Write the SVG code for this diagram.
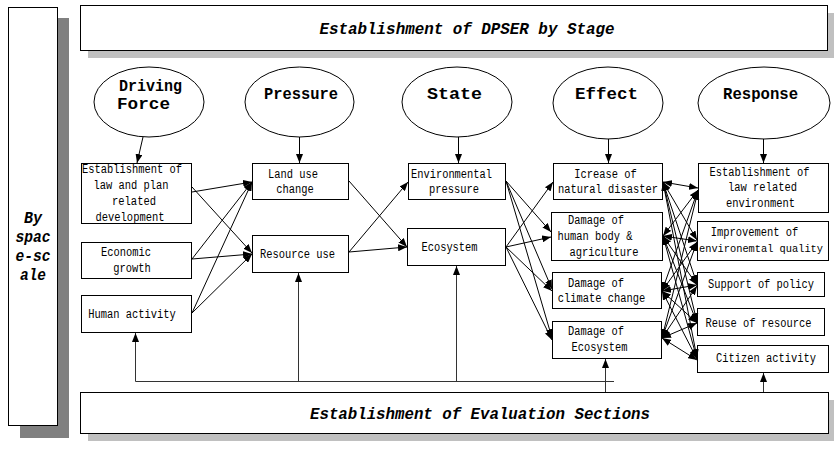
<svg xmlns="http://www.w3.org/2000/svg" width="834" height="449" viewBox="0 0 834 449">
<defs>
<marker id="ah" markerWidth="9" markerHeight="7" refX="9" refY="3.5" orient="auto-start-reverse" markerUnits="userSpaceOnUse">
<path d="M0,0 L9,3.5 L0,7 z" fill="#000"/>
</marker>
</defs>
<style>
.box{fill:#fff;stroke:#000;stroke-width:1}
.sh1{fill:#c0c0c0}
.sh2{fill:#808080}
.t{font-family:"Liberation Mono",monospace;font-size:12px;fill:#000;text-anchor:middle}
.h{font-family:"Liberation Mono",monospace;font-weight:bold;font-size:16px;fill:#000;text-anchor:middle}
.bi{font-family:"Liberation Mono",monospace;font-weight:bold;font-style:italic;font-size:16px;fill:#000;text-anchor:middle}
.a{stroke:#000;stroke-width:1;fill:none;marker-end:url(#ah)}
.d{stroke:#000;stroke-width:1;fill:none;marker-start:url(#ah);marker-end:url(#ah)}
.g{stroke:#333;stroke-width:1;fill:none}
.ga{stroke:#333;stroke-width:1;fill:none;marker-end:url(#ah)}
.ell{fill:#fff;stroke:#000;stroke-width:1}
</style>
<rect width="834" height="449" fill="#fff"/>

<g id="space-scale">
<rect class="sh2" x="20" y="18" width="49" height="420"/>
<rect class="box" x="8.5" y="7.5" width="49" height="418"/>
<text class="bi" x="33" y="223" textLength="18" lengthAdjust="spacingAndGlyphs">By</text>
<text class="bi" x="33" y="242" textLength="35" lengthAdjust="spacingAndGlyphs">spac</text>
<text class="bi" x="33" y="261" textLength="35" lengthAdjust="spacingAndGlyphs">e-sc</text>
<text class="bi" x="33" y="280" textLength="26" lengthAdjust="spacingAndGlyphs">ale</text>
</g>

<g id="stage-banner">
<rect class="sh1" x="88" y="13" width="746" height="45"/>
<rect class="box" x="80.5" y="5.5" width="747" height="45"/>
<text class="bi" x="467" y="34" textLength="295" lengthAdjust="spacingAndGlyphs">Establishment of DPSER by Stage</text>
</g>

<g id="eval-banner">
<rect class="sh1" x="88" y="400" width="746" height="41"/>
<rect class="box" x="80.5" y="392.5" width="748" height="41"/>
<text class="bi" x="480" y="419" textLength="340" lengthAdjust="spacingAndGlyphs">Establishment of Evaluation Sections</text>
</g>

<g id="e-driving">
<ellipse class="ell" cx="149" cy="102" rx="55" ry="35"/>
<text class="h" x="150.5" y="91" textLength="63" lengthAdjust="spacingAndGlyphs">Driving</text>
<text class="h" x="143.5" y="109" textLength="53" lengthAdjust="spacingAndGlyphs">Force</text>
</g>
<g id="e-pressure">
<ellipse class="ell" cx="299.5" cy="102" rx="54.5" ry="35"/>
<text class="h" x="301" y="99" textLength="74" lengthAdjust="spacingAndGlyphs">Pressure</text>
</g>
<g id="e-state">
<ellipse class="ell" cx="457" cy="102" rx="55" ry="35"/>
<text class="h" x="454.5" y="99" textLength="55" lengthAdjust="spacingAndGlyphs">State</text>
</g>
<g id="e-effect">
<ellipse class="ell" cx="608" cy="103" rx="55" ry="36"/>
<text class="h" x="606.5" y="99" textLength="63" lengthAdjust="spacingAndGlyphs">Effect</text>
</g>
<g id="e-response">
<ellipse class="ell" cx="764" cy="103" rx="66" ry="36"/>
<text class="h" x="760.5" y="99" textLength="75" lengthAdjust="spacingAndGlyphs">Response</text>
</g>

<g id="d-law">
<rect class="box" x="81.5" y="163.5" width="110" height="60"/>
<text class="t" x="132" y="172.5" textLength="100" lengthAdjust="spacingAndGlyphs">Establishment of</text>
<text class="t" x="131" y="188.5" textLength="75" lengthAdjust="spacingAndGlyphs">law and plan</text>
<text class="t" x="134" y="204.5" textLength="44" lengthAdjust="spacingAndGlyphs">related</text>
<text class="t" x="130" y="220.5" textLength="69" lengthAdjust="spacingAndGlyphs">development</text>
</g>
<g id="d-economic">
<rect class="box" x="81.5" y="242.5" width="110" height="36"/>
<text class="t" x="126" y="255.5" textLength="50" lengthAdjust="spacingAndGlyphs">Economic</text>
<text class="t" x="132" y="271.5" textLength="37.5" lengthAdjust="spacingAndGlyphs">growth</text>
</g>
<g id="d-human">
<rect class="box" x="81.5" y="295.5" width="110" height="37"/>
<text class="t" x="132" y="317.5" textLength="87.5" lengthAdjust="spacingAndGlyphs">Human activity</text>
</g>

<g id="p-land">
<rect class="box" x="252.5" y="163.5" width="96" height="36"/>
<text class="t" x="293" y="177.5" textLength="50" lengthAdjust="spacingAndGlyphs">Land use</text>
<text class="t" x="295" y="192.5" textLength="37.5" lengthAdjust="spacingAndGlyphs">change</text>
</g>
<g id="p-resource">
<rect class="box" x="252.5" y="235.5" width="96" height="37"/>
<text class="t" x="297.5" y="257.5" textLength="75" lengthAdjust="spacingAndGlyphs">Resource use</text>
</g>

<g id="s-env">
<rect class="box" x="408.5" y="163.5" width="97" height="36"/>
<text class="t" x="451.5" y="177.5" textLength="81" lengthAdjust="spacingAndGlyphs">Environmental</text>
<text class="t" x="454" y="192.5" textLength="50" lengthAdjust="spacingAndGlyphs">pressure</text>
</g>
<g id="s-eco">
<rect class="box" x="407.5" y="228.5" width="98" height="37"/>
<text class="t" x="449.5" y="250.5" textLength="56" lengthAdjust="spacingAndGlyphs">Ecosystem</text>
</g>

<g id="f-disaster">
<rect class="box" x="553.5" y="163.5" width="109" height="36"/>
<text class="t" x="605.5" y="177.5" textLength="62.5" lengthAdjust="spacingAndGlyphs">Icrease of</text>
<text class="t" x="608" y="192.5" textLength="100" lengthAdjust="spacingAndGlyphs">natural disaster</text>
</g>
<g id="f-human">
<rect class="box" x="551.5" y="212.5" width="111" height="48"/>
<text class="t" x="596" y="223.5" textLength="56" lengthAdjust="spacingAndGlyphs">Damage of</text>
<text class="t" x="595" y="239.5" textLength="75" lengthAdjust="spacingAndGlyphs">human body &amp;</text>
<text class="t" x="604" y="255.5" textLength="69" lengthAdjust="spacingAndGlyphs">agriculture</text>
</g>
<g id="f-climate">
<rect class="box" x="552.5" y="272.5" width="109" height="36"/>
<text class="t" x="596" y="286.5" textLength="56" lengthAdjust="spacingAndGlyphs">Damage of</text>
<text class="t" x="601.5" y="301.5" textLength="87.5" lengthAdjust="spacingAndGlyphs">climate change</text>
</g>
<g id="f-eco">
<rect class="box" x="552.5" y="321.5" width="109" height="37"/>
<text class="t" x="596" y="334.5" textLength="56" lengthAdjust="spacingAndGlyphs">Damage of</text>
<text class="t" x="599.5" y="350.5" textLength="56" lengthAdjust="spacingAndGlyphs">Ecosystem</text>
</g>

<g id="r-law">
<rect class="box" x="698.5" y="163.5" width="130" height="49"/>
<text class="t" x="759.5" y="175.5" textLength="100" lengthAdjust="spacingAndGlyphs">Establishment of</text>
<text class="t" x="762.5" y="190.5" textLength="69" lengthAdjust="spacingAndGlyphs">law related</text>
<text class="t" x="760.5" y="206.5" textLength="69" lengthAdjust="spacingAndGlyphs">environment</text>
</g>
<g id="r-quality">
<rect class="box" x="697.5" y="221.5" width="131" height="39"/>
<text class="t" x="754.5" y="235.5" textLength="87.5" lengthAdjust="spacingAndGlyphs">Improvement of</text>
<text class="t" x="761" y="251.5" style="font-size:11px" textLength="124" lengthAdjust="spacingAndGlyphs">environemtal quality</text>
</g>
<g id="r-policy">
<rect class="box" x="697.5" y="272.5" width="127" height="24"/>
<text class="t" x="761" y="288" textLength="106" lengthAdjust="spacingAndGlyphs">Support of policy</text>
</g>
<g id="r-reuse">
<rect class="box" x="697.5" y="308.5" width="127" height="27"/>
<text class="t" x="758.5" y="326.5" textLength="106" lengthAdjust="spacingAndGlyphs">Reuse of resource</text>
</g>
<g id="r-citizen">
<rect class="box" x="697.5" y="345.5" width="131" height="27"/>
<text class="t" x="766" y="362" textLength="100" lengthAdjust="spacingAndGlyphs">Citizen activity</text>
</g>

<g id="connectors">
<line class="a" x1="143" y1="137" x2="137" y2="163"/>
<line class="a" x1="299.5" y1="137" x2="299.5" y2="163"/>
<line class="a" x1="458.5" y1="137" x2="458.5" y2="163"/>
<line class="a" x1="608.5" y1="139" x2="608.5" y2="163"/>
<line class="a" x1="763.5" y1="139" x2="763.5" y2="163"/>
<line class="a" x1="192" y1="192" x2="252" y2="182"/>
<line class="a" x1="192" y1="187" x2="252" y2="253"/>
<line class="a" x1="192" y1="259" x2="252" y2="182"/>
<line class="a" x1="192" y1="259" x2="252" y2="254"/>
<line class="a" x1="192" y1="313" x2="252" y2="182"/>
<line class="a" x1="192" y1="313" x2="252" y2="254"/>
<line class="a" x1="349" y1="181" x2="407" y2="247"/>
<line class="a" x1="349" y1="252" x2="408" y2="182"/>
<line class="a" x1="349" y1="252" x2="407" y2="247"/>
<line class="a" x1="506" y1="181" x2="551" y2="232"/>
<line class="a" x1="506" y1="181" x2="552" y2="289"/>
<line class="a" x1="506" y1="181" x2="552" y2="338"/>
<line class="a" x1="506" y1="247" x2="553" y2="182"/>
<line class="a" x1="506" y1="247" x2="551" y2="237"/>
<line class="a" x1="506" y1="247" x2="552" y2="291"/>
<line class="a" x1="506" y1="247" x2="552" y2="340"/>
<line class="d" x1="663" y1="182" x2="698" y2="188"/>
<line class="d" x1="663" y1="182" x2="697" y2="240"/>
<line class="d" x1="663" y1="182" x2="697" y2="284"/>
<line class="d" x1="663" y1="182" x2="697" y2="322"/>
<line class="d" x1="663" y1="182" x2="697" y2="358"/>
<line class="d" x1="663" y1="236" x2="698" y2="190"/>
<line class="d" x1="663" y1="236" x2="697" y2="241"/>
<line class="d" x1="663" y1="236" x2="697" y2="285"/>
<line class="d" x1="663" y1="236" x2="697" y2="323"/>
<line class="d" x1="663" y1="236" x2="697" y2="359"/>
<line class="d" x1="662" y1="291" x2="698" y2="190"/>
<line class="d" x1="662" y1="291" x2="697" y2="242"/>
<line class="d" x1="662" y1="291" x2="697" y2="285"/>
<line class="d" x1="662" y1="291" x2="697" y2="323"/>
<line class="d" x1="662" y1="291" x2="697" y2="359"/>
<line class="d" x1="662" y1="338" x2="698" y2="191"/>
<line class="d" x1="662" y1="338" x2="697" y2="242"/>
<line class="d" x1="662" y1="338" x2="697" y2="286"/>
<line class="d" x1="662" y1="338" x2="697" y2="323"/>
<line class="d" x1="662" y1="338" x2="697" y2="360"/>
<polyline class="g" points="614,381.5 135.5,381.5"/>
<line class="ga" x1="135.5" y1="381.5" x2="135.5" y2="333"/>
<line class="ga" x1="298.5" y1="381.5" x2="298.5" y2="273"/>
<line class="ga" x1="456.5" y1="381.5" x2="456.5" y2="266"/>
<line class="ga" x1="605.5" y1="392" x2="605.5" y2="359"/>
<line class="ga" x1="763.5" y1="392" x2="763.5" y2="373"/>
</g>
</svg>
